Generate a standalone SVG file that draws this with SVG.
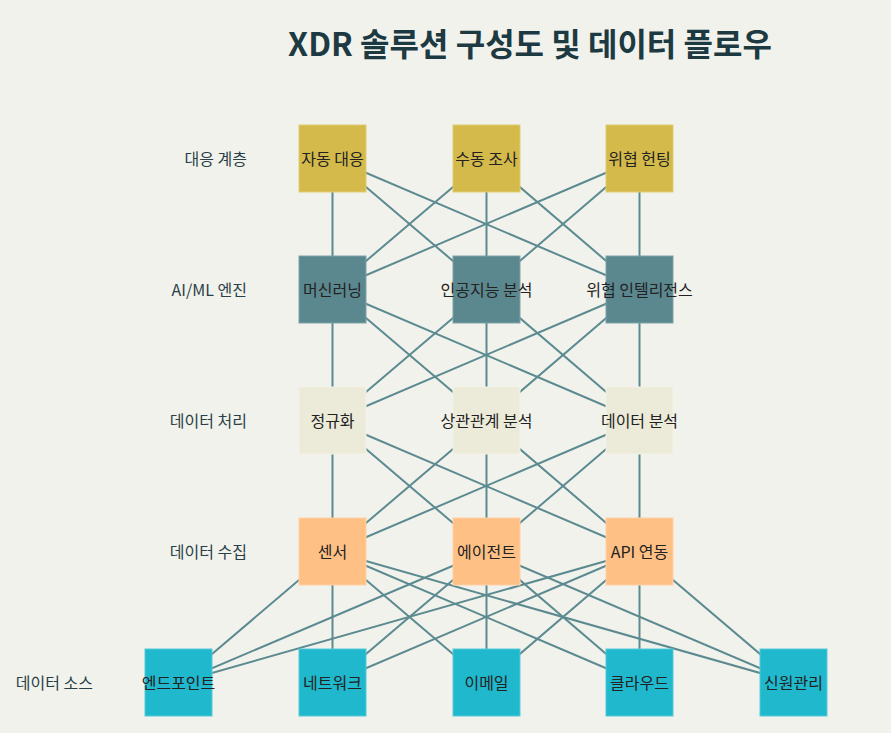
<svg xmlns="http://www.w3.org/2000/svg" width="891" height="733" viewBox="0 0 891 733">
<style>
.bg{fill:#f2f2ec}
.title{font-family:"Noto Sans CJK KR","Noto Sans",sans-serif;font-size:32px;font-weight:bold;fill:#1d3a42}
.lbl{font-family:"Noto Sans CJK KR","Noto Sans",sans-serif;font-size:16px;fill:#2a3f47;text-anchor:end;dominant-baseline:central}
.nt{font-family:"Noto Sans CJK KR","Noto Sans",sans-serif;font-size:16px;fill:#222;text-anchor:middle;dominant-baseline:central}
.c line{stroke:#5b8a90;stroke-width:2}
.r1{fill:#d4ba4b;stroke:#e0cc72;stroke-width:1}
.r2{fill:#5b878f;stroke:#7ea2a8;stroke-width:1}
.r3{fill:#ecebd9;stroke:#f2f1e4;stroke-width:1}
.r4{fill:#ffc085;stroke:#ffd0a4;stroke-width:1}
.r5{fill:#1fb8cc;stroke:#55cad9;stroke-width:1}
</style>
<rect class="bg" width="891" height="733"/>
<text class="title" x="530" y="56" text-anchor="middle">XDR 솔루션 구성도 및 데이터 플로우</text>
<g id="layer-labels">
<text class="lbl" x="247" y="157.5">대응 계층</text>
<text class="lbl" x="247" y="288.5">AI/ML 엔진</text>
<text class="lbl" x="247" y="419.5">데이터 처리</text>
<text class="lbl" x="247" y="550.5">데이터 수집</text>
<text class="lbl" x="93" y="681.5">데이터 소스</text>
</g>
<g id="connectors" class="c">
<line x1="332.5" y1="158.5" x2="332.5" y2="289.5"/>
<line x1="332.5" y1="158.5" x2="486.5" y2="289.5"/>
<line x1="332.5" y1="158.5" x2="639.5" y2="289.5"/>
<line x1="486.5" y1="158.5" x2="332.5" y2="289.5"/>
<line x1="486.5" y1="158.5" x2="486.5" y2="289.5"/>
<line x1="486.5" y1="158.5" x2="639.5" y2="289.5"/>
<line x1="639.5" y1="158.5" x2="332.5" y2="289.5"/>
<line x1="639.5" y1="158.5" x2="486.5" y2="289.5"/>
<line x1="639.5" y1="158.5" x2="639.5" y2="289.5"/>
<line x1="332.5" y1="289.5" x2="332.5" y2="420.5"/>
<line x1="332.5" y1="289.5" x2="486.5" y2="420.5"/>
<line x1="332.5" y1="289.5" x2="639.5" y2="420.5"/>
<line x1="486.5" y1="289.5" x2="332.5" y2="420.5"/>
<line x1="486.5" y1="289.5" x2="486.5" y2="420.5"/>
<line x1="486.5" y1="289.5" x2="639.5" y2="420.5"/>
<line x1="639.5" y1="289.5" x2="332.5" y2="420.5"/>
<line x1="639.5" y1="289.5" x2="486.5" y2="420.5"/>
<line x1="639.5" y1="289.5" x2="639.5" y2="420.5"/>
<line x1="332.5" y1="420.5" x2="332.5" y2="551.5"/>
<line x1="332.5" y1="420.5" x2="486.5" y2="551.5"/>
<line x1="332.5" y1="420.5" x2="639.5" y2="551.5"/>
<line x1="486.5" y1="420.5" x2="332.5" y2="551.5"/>
<line x1="486.5" y1="420.5" x2="486.5" y2="551.5"/>
<line x1="486.5" y1="420.5" x2="639.5" y2="551.5"/>
<line x1="639.5" y1="420.5" x2="332.5" y2="551.5"/>
<line x1="639.5" y1="420.5" x2="486.5" y2="551.5"/>
<line x1="639.5" y1="420.5" x2="639.5" y2="551.5"/>
<line x1="332.5" y1="551.5" x2="178.5" y2="682.5"/>
<line x1="332.5" y1="551.5" x2="332.5" y2="682.5"/>
<line x1="332.5" y1="551.5" x2="486.5" y2="682.5"/>
<line x1="332.5" y1="551.5" x2="639.5" y2="682.5"/>
<line x1="332.5" y1="551.5" x2="793.5" y2="682.5"/>
<line x1="486.5" y1="551.5" x2="178.5" y2="682.5"/>
<line x1="486.5" y1="551.5" x2="332.5" y2="682.5"/>
<line x1="486.5" y1="551.5" x2="486.5" y2="682.5"/>
<line x1="486.5" y1="551.5" x2="639.5" y2="682.5"/>
<line x1="486.5" y1="551.5" x2="793.5" y2="682.5"/>
<line x1="639.5" y1="551.5" x2="178.5" y2="682.5"/>
<line x1="639.5" y1="551.5" x2="332.5" y2="682.5"/>
<line x1="639.5" y1="551.5" x2="486.5" y2="682.5"/>
<line x1="639.5" y1="551.5" x2="639.5" y2="682.5"/>
<line x1="639.5" y1="551.5" x2="793.5" y2="682.5"/>
</g>
<g id="n-auto"><rect class="r1" x="299" y="125" width="67" height="67"/><text class="nt" x="332.5" y="157.5">자동 대응</text></g>
<g id="n-manual"><rect class="r1" x="453" y="125" width="67" height="67"/><text class="nt" x="486.5" y="157.5">수동 조사</text></g>
<g id="n-hunt"><rect class="r1" x="606" y="125" width="67" height="67"/><text class="nt" x="639.5" y="157.5">위협 헌팅</text></g>
<g id="n-ml"><rect class="r2" x="299" y="256" width="67" height="67"/><text class="nt" x="332.5" y="288.5">머신러닝</text></g>
<g id="n-ai"><rect class="r2" x="453" y="256" width="67" height="67"/><text class="nt" x="486.5" y="288.5">인공지능 분석</text></g>
<g id="n-ti"><rect class="r2" x="606" y="256" width="67" height="67"/><text class="nt" x="639.5" y="288.5">위협 인텔리전스</text></g>
<g id="n-norm"><rect class="r3" x="299" y="387" width="67" height="67"/><text class="nt" x="332.5" y="419.5">정규화</text></g>
<g id="n-corr"><rect class="r3" x="453" y="387" width="67" height="67"/><text class="nt" x="486.5" y="419.5">상관관계 분석</text></g>
<g id="n-da"><rect class="r3" x="606" y="387" width="67" height="67"/><text class="nt" x="639.5" y="419.5">데이터 분석</text></g>
<g id="n-sensor"><rect class="r4" x="299" y="518" width="67" height="67"/><text class="nt" x="332.5" y="550.5">센서</text></g>
<g id="n-agent"><rect class="r4" x="453" y="518" width="67" height="67"/><text class="nt" x="486.5" y="550.5">에이전트</text></g>
<g id="n-api"><rect class="r4" x="606" y="518" width="67" height="67"/><text class="nt" x="639.5" y="550.5">API 연동</text></g>
<g id="n-endpoint"><rect class="r5" x="145" y="649" width="67" height="67"/><text class="nt" x="178.5" y="681.5">엔드포인트</text></g>
<g id="n-network"><rect class="r5" x="299" y="649" width="67" height="67"/><text class="nt" x="332.5" y="681.5">네트워크</text></g>
<g id="n-email"><rect class="r5" x="453" y="649" width="67" height="67"/><text class="nt" x="486.5" y="681.5">이메일</text></g>
<g id="n-cloud"><rect class="r5" x="606" y="649" width="67" height="67"/><text class="nt" x="639.5" y="681.5">클라우드</text></g>
<g id="n-identity"><rect class="r5" x="760" y="649" width="67" height="67"/><text class="nt" x="793.5" y="681.5">신원관리</text></g>
</svg>
